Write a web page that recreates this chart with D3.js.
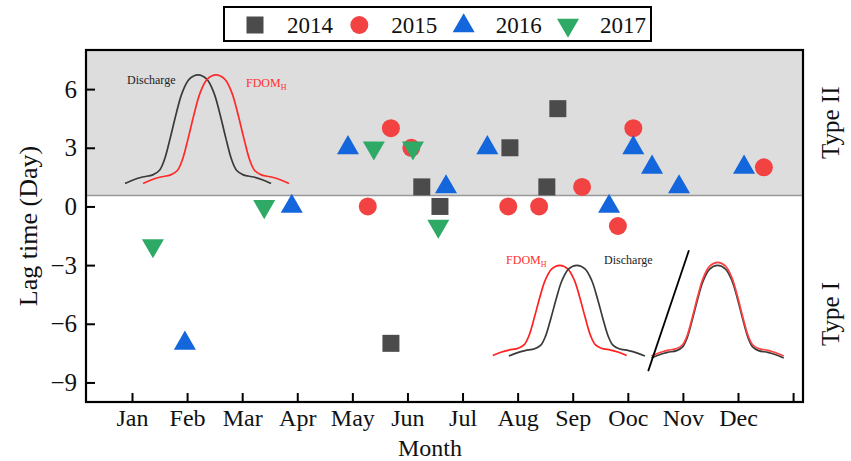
<!DOCTYPE html>
<html>
<head>
<meta charset="utf-8">
<script src="https://cdn.jsdelivr.net/npm/d3@7"></script>
<style>
  html, body { margin: 0; padding: 0; background: #fff; }
  svg { display: block; }
  text { font-family: "Liberation Serif", "Times New Roman", serif; fill: #111; }
</style>
</head>
<body>
<svg id="chart" width="851" height="461"></svg>
<script>
// ---------------- DATA ----------------
const monthLabels = ["Jan","Feb","Mar","Apr","May","Jun","Jul","Aug","Sep","Ooc","Nov","Dec",""];
const monthTicks = [1,2,3,4,5,6,7,8,9,10,11,12,13];
const yTicks = [-9,-6,-3,0,3,6];
const years = ["2014","2015","2016","2017"];

// [month position, lag (day)]
const lag2014 = [[6.26,1],[6.59,0],[7.86,3],[8.53,1],[8.73,5],[5.70,-7]];
const lag2015 = [[5.28,0],[5.70,4],[6.07,3],[7.83,0],[8.39,0],[9.17,1],[9.82,-1],[10.10,4],[12.47,2]];
const lag2016 = [[1.96,-7],[3.90,0],[4.92,3],[6.70,1],[7.45,3],[9.66,0],[10.10,3],[10.44,2],[10.93,1],[12.11,2]];
const lag2017 = [[1.38,-2],[3.40,0],[5.39,3],[6.10,3],[6.56,-1]];

const typeBoundary = 0.56;   // lag separating Type I / Type II

// hydrograph profile used in the schematic insets (relative time, relative height)
const profileT = [0, 0.06, 0.12, 0.19, 0.235, 0.27, 0.31, 0.35, 0.39, 0.44, 0.5, 0.56, 0.61, 0.65, 0.69, 0.73, 0.765, 0.81, 0.88, 0.94, 1];
const profileH = [0, 0.035, 0.06, 0.08, 0.12, 0.22, 0.42, 0.64, 0.83, 0.96, 1, 0.96, 0.83, 0.64, 0.42, 0.22, 0.12, 0.08, 0.06, 0.035, 0];

// ---------------- LAYOUT ----------------
const svg = d3.select("#chart");
const pLeft = 86, pRight = 803, pTop = 50, pBottom = 402;

const x = d3.scaleLinear().domain([0.165, 13.18]).range([pLeft, pRight]);
const y = d3.scaleLinear().domain([-10, 8]).range([pBottom, pTop]);

const colors = { "2014": "#4b4b4b", "2015": "#f24242", "2016": "#1466dc", "2017": "#2eaa66" };
const symbols = {
  "2014": { type: d3.symbolSquare, size: 289, rot: 0 },
  "2015": { type: d3.symbolCircle, size: 254, rot: 0 },
  "2016": { type: d3.symbolTriangle, size: 210, rot: 0 },
  "2017": { type: d3.symbolTriangle, size: 210, rot: 180 }
};

// gray Type II band
svg.append("rect")
  .attr("x", pLeft).attr("y", y(8))
  .attr("width", pRight - pLeft).attr("height", y(typeBoundary) - y(8))
  .attr("fill", "#dddddd");
svg.append("line")
  .attr("x1", pLeft).attr("x2", pRight)
  .attr("y1", y(typeBoundary)).attr("y2", y(typeBoundary))
  .attr("stroke", "#999").attr("stroke-width", 1.5);

// ---------------- INSETS ----------------
const insets = [
  { x0: 0.873, x1: 3.524, base: 1.17, peak: 6.73, color: "#3a3a3a" },
  { x0: 1.200, x1: 3.850, base: 1.17, peak: 6.73, color: "#ff2a2a" },
  { x0: 7.550, x1: 9.980, base: -7.62, peak: -3.01, color: "#ff2020" },
  { x0: 7.840, x1: 10.31, base: -7.65, peak: -3.01, color: "#3a3a3a" },
  { x0: 10.43, x1: 12.83, base: -7.75, peak: -3.01, color: "#3a3a3a" },
  { x0: 10.43, x1: 12.83, base: -7.65, peak: -2.86, color: "#ff4040" }
];
const line = d3.line().curve(d3.curveCatmullRom.alpha(0.5));
insets.forEach(c => {
  const pts = profileT.map((t, i) => [
    x(c.x0 + t * (c.x1 - c.x0)),
    y(c.base + profileH[i] * (c.peak - c.base))
  ]);
  svg.append("path").attr("d", line(pts))
    .attr("fill", "none").attr("stroke", c.color).attr("stroke-width", 1.7);
});
svg.append("line")
  .attr("x1", x(10.37)).attr("y1", y(-8.42))
  .attr("x2", x(11.11)).attr("y2", y(-2.24))
  .attr("stroke", "#000").attr("stroke-width", 1.8);

function insetLabel(px, py, isFdom) {
  const t = svg.append("text").attr("x", x(px)).attr("y", y(py)).attr("font-size", 12);
  if (isFdom) {
    t.style("fill", "#ff3030").text("FDOM");
    t.append("tspan").attr("font-size", 8).attr("dy", 3).text("H");
  } else {
    t.style("fill", "#222").text("Discharge");
  }
}
insetLabel(0.91, 6.27, false);
insetLabel(3.07, 6.12, true);
insetLabel(7.79, -2.96, true);
insetLabel(9.57, -2.96, false);

// ---------------- POINTS ----------------
const seriesData = { "2014": lag2014, "2015": lag2015, "2016": lag2016, "2017": lag2017 };
years.forEach(yr => {
  const s = symbols[yr];
  svg.append("g").selectAll("path").data(seriesData[yr]).join("path")
    .attr("d", d3.symbol().type(s.type).size(s.size))
    .attr("transform", d => `translate(${x(d[0])},${y(d[1])}) rotate(${s.rot})`)
    .attr("fill", colors[yr]);
});

// ---------------- AXES ----------------
const yAxis = d3.axisLeft(y).tickValues(yTicks).tickSize(-9).tickPadding(9)
  .tickFormat(d => d3.format("d")(d));
const gy = svg.append("g").attr("transform", `translate(${pLeft},0)`).call(yAxis);
gy.select(".domain").remove();
gy.selectAll(".tick line").attr("stroke", "#000").attr("stroke-width", 2);
gy.selectAll(".tick text").attr("font-size", 25)
  .style("font-family", "'Liberation Serif', 'Times New Roman', serif").style("fill", "#111");

const xAxis = d3.axisBottom(x).tickValues(monthTicks).tickSize(-9).tickPadding(7)
  .tickFormat((d, i) => monthLabels[i]);
const gx = svg.append("g").attr("transform", `translate(0,${pBottom})`).call(xAxis);
gx.select(".domain").remove();
gx.selectAll(".tick line").attr("stroke", "#000").attr("stroke-width", 2);
gx.selectAll(".tick text").attr("font-size", 24)
  .style("font-family", "'Liberation Serif', 'Times New Roman', serif").style("fill", "#111");

// frame
svg.append("rect")
  .attr("x", pLeft).attr("y", pTop)
  .attr("width", pRight - pLeft).attr("height", pBottom - pTop)
  .attr("fill", "none").attr("stroke", "#000").attr("stroke-width", 2.2);

// axis titles
svg.append("text").attr("x", 430).attr("y", 456).attr("text-anchor", "middle")
  .attr("font-size", 24).text("Month");
svg.append("text").attr("transform", "translate(37,226) rotate(-90)")
  .attr("text-anchor", "middle").attr("font-size", 26).text("Lag time (Day)");
svg.append("text").attr("transform", `translate(839,${(y(8) + y(typeBoundary)) / 2}) rotate(-90)`)
  .attr("text-anchor", "middle").attr("font-size", 25).text("Type II");
svg.append("text").attr("transform", "translate(839,314) rotate(-90)")
  .attr("text-anchor", "middle").attr("font-size", 25).text("Type I");

// ---------------- LEGEND ----------------
const legend = svg.append("g");
legend.append("rect").attr("x", 224).attr("y", 7).attr("width", 427).attr("height", 34)
  .attr("fill", "#fff").attr("stroke", "#000").attr("stroke-width", 2);
const legendX = d3.scalePoint().domain(years).range([255, 568]);
years.forEach(yr => {
  const s = symbols[yr];
  const cy = s.type === d3.symbolTriangle ? (s.rot ? 25 : 26) : 25;
  legend.append("path")
    .attr("d", d3.symbol().type(s.type).size(s.size))
    .attr("transform", `translate(${legendX(yr)},${cy}) rotate(${s.rot})`)
    .attr("fill", colors[yr]);
  legend.append("text").attr("x", legendX(yr) + 32).attr("y", 33)
    .attr("font-size", 23).text(yr);
});
</script>
</body>
</html>
